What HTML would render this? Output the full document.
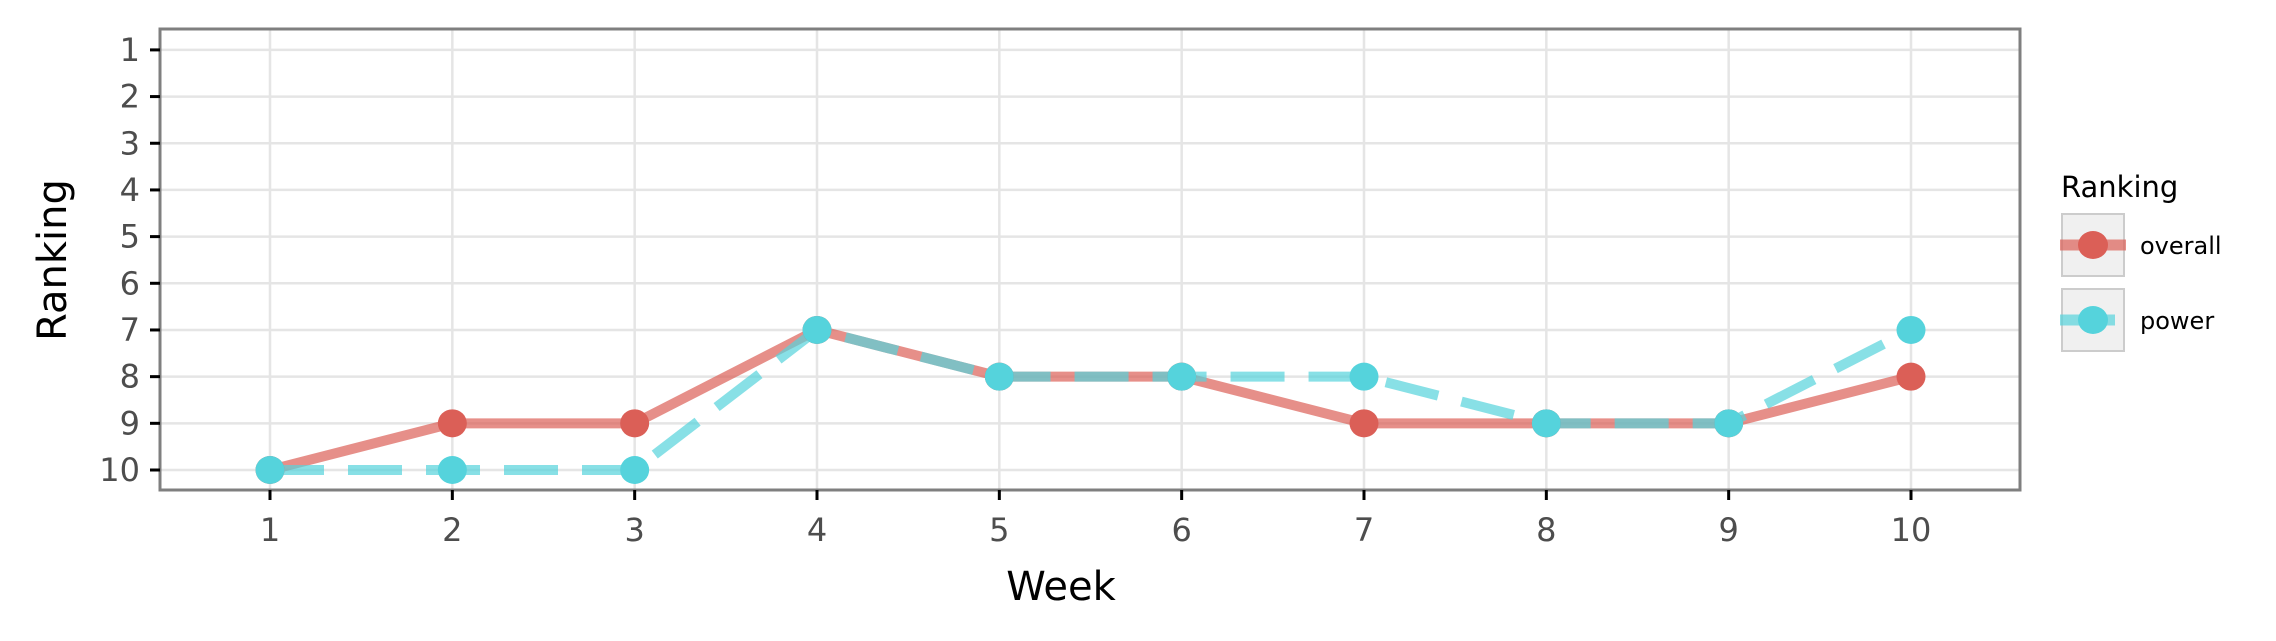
<!DOCTYPE html>
<html><head><meta charset="utf-8"><style>
html,body{margin:0;padding:0;background:#fff;}
svg{display:block;font-family:"DejaVu Sans","Liberation Sans",sans-serif;}
</style></head><body>
<svg id="chart" width="2276" height="641" viewBox="0 0 2276 641">
<g id="grid"></g>
<g id="series"></g>
<rect x="160" y="29" width="1860" height="461" fill="none" stroke="#7f7f7f" stroke-width="3"/>
<g id="axes"></g>
<text x="1061" y="600" font-size="40" text-anchor="middle" fill="#000">Week</text>
<text transform="translate(66,260) rotate(-90)" font-size="40" text-anchor="middle" fill="#000">Ranking</text>
<g>
<text x="2061" y="197" font-size="29" fill="#000">Ranking</text>
<g>
<rect x="2062" y="214" width="62" height="62" fill="#f0f0f0" stroke="#cccccc" stroke-width="2"/>
<line x1="2060" y1="245" x2="2126" y2="245" stroke="#db5f57" stroke-opacity="0.7" stroke-width="11"/>
<ellipse cx="2093" cy="245" rx="15" ry="14" fill="#db5f57"/>
<text x="2140" y="254" font-size="24" fill="#000">overall</text>
</g>
<g>
<rect x="2062" y="289" width="62" height="62" fill="#f0f0f0" stroke="#cccccc" stroke-width="2"/>
<line x1="2060" y1="320" x2="2115" y2="320" stroke="#55d3dc" stroke-opacity="0.7" stroke-width="11"/>
<ellipse cx="2093" cy="320" rx="15" ry="14" fill="#55d3dc"/>
<text x="2140" y="329" font-size="24" fill="#000">power</text>
</g>
</g>
</svg>
<script>
const weeks = [1,2,3,4,5,6,7,8,9,10];
const overall = [10,9,9,7,8,8,9,9,9,8];
const power = [10,10,10,7,8,8,8,9,9,7];
const yTicks = [1,2,3,4,5,6,7,8,9,10];
const xTicks = [1,2,3,4,5,6,7,8,9,10];
const NS="http://www.w3.org/2000/svg";
function xs(v){return 270+(v-1)*(1911-270)/9;}
function ys(v){return 49.9+(v-1)*(470-49.9)/9;}
function mk(tag,attrs,parent){const e=document.createElementNS(NS,tag);for(const k in attrs)e.setAttribute(k,attrs[k]);parent.appendChild(e);return e;}
const grid=document.getElementById('grid'),axes=document.getElementById('axes'),ser=document.getElementById('series');
yTicks.forEach(t=>{
 const l=mk('line',{x1:160,x2:2020,y1:ys(t),y2:ys(t),stroke:'#e5e5e5','stroke-width':2.5},grid);
 
 
 const tk=mk('line',{x1:150,x2:160,y1:ys(t),y2:ys(t),stroke:'#000','stroke-width':3},axes);
 
 
 const tx=mk('text',{x:140,y:ys(t)+11,'font-size':32,'text-anchor':'end',fill:'#4d4d4d'},axes);
 tx.textContent=t;
 
 
});
xTicks.forEach(t=>{
 const l=mk('line',{x1:xs(t),x2:xs(t),y1:29,y2:490,stroke:'#e5e5e5','stroke-width':2.5},grid);
 
 
 const tk=mk('line',{x1:xs(t),x2:xs(t),y1:490,y2:500,stroke:'#000','stroke-width':3},axes);
 
 
 const tx=mk('text',{x:xs(t),y:541,'font-size':32,'text-anchor':'middle',fill:'#4d4d4d'},axes);
 tx.textContent=t;
 
 
});
function pts(arr){return weeks.map((w,i)=>xs(w)+','+ys(arr[i])).join(' ');}
const lo=mk('polyline',{points:pts(overall),fill:'none',stroke:'#db5f57','stroke-opacity':0.7,'stroke-width':10,'stroke-linejoin':'round'},ser);


const lp=mk('polyline',{points:pts(power),fill:'none',stroke:'#55d3dc','stroke-opacity':0.7,'stroke-width':10,'stroke-dasharray':'54 24'},ser);


weeks.forEach((w,i)=>{
 const c=mk('ellipse',{cx:xs(w),cy:ys(overall[i]),rx:14.5,ry:14,fill:'#db5f57'},ser);
 
 
});
weeks.forEach((w,i)=>{
 const c=mk('ellipse',{cx:xs(w),cy:ys(power[i]),rx:14.5,ry:14,fill:'#55d3dc'},ser);
 
 
});
</script>
</body></html>
